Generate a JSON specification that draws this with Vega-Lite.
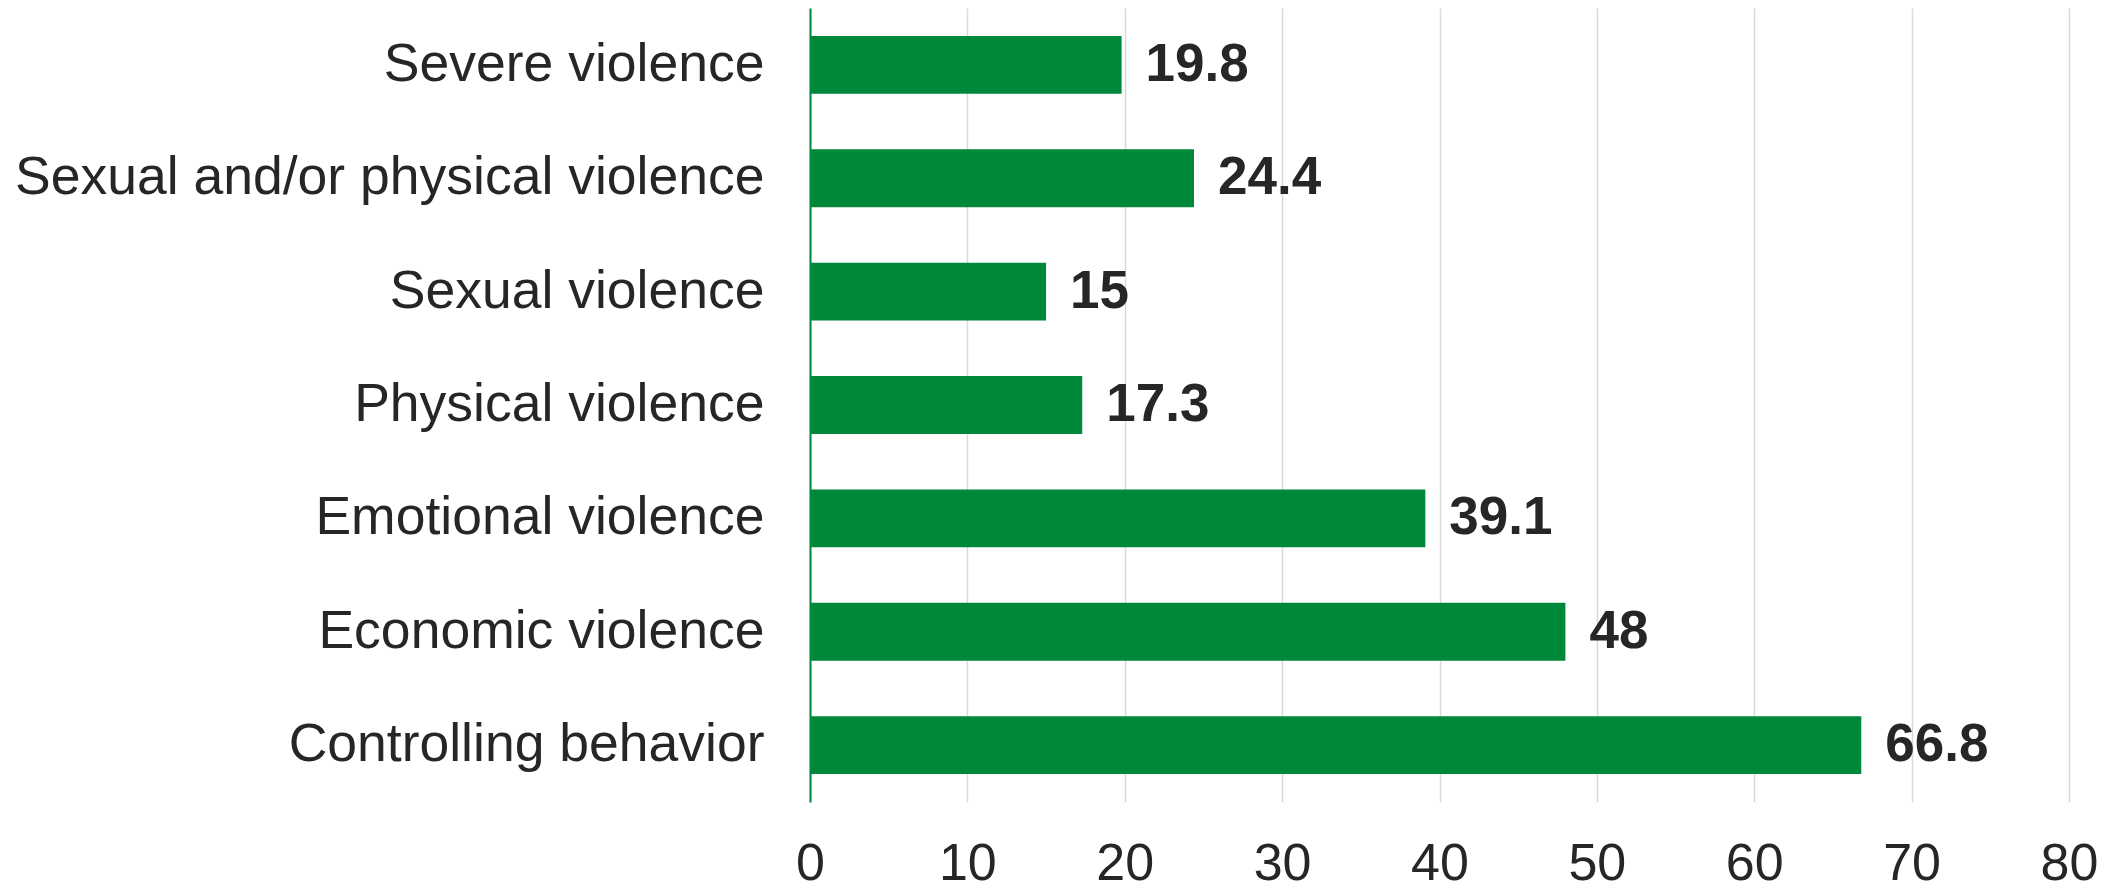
{
  "$schema": "https://vega.github.io/schema/vega-lite/v6.json",
  "autosize": {"type": "none"},
  "padding": {"left": 810, "top": 8, "right": 47, "bottom": 88},
  "width": 1259,
  "height": 794,
  "background": "white",
  "data": {
    "values": [
      {"category": "Severe violence", "value": 19.8},
      {"category": "Sexual and/or physical violence", "value": 24.4},
      {"category": "Sexual violence", "value": 15},
      {"category": "Physical violence", "value": 17.3},
      {"category": "Emotional violence", "value": 39.1},
      {"category": "Economic violence", "value": 48},
      {"category": "Controlling behavior", "value": 66.8}
    ]
  },
  "config": {
    "view": {"stroke": null},
    "font": "Liberation Sans"
  },
  "encoding": {
    "y": {
      "field": "category",
      "type": "nominal",
      "sort": null,
      "scale": {"paddingInner": 0.49, "paddingOuter": 0.247},
      "axis": {
        "title": null,
        "ticks": false,
        "domain": true,
        "domainColor": "#00883A",
        "domainWidth": 2,
        "labelFont": "Liberation Sans",
        "labelFontSize": 53.5,
        "labelColor": "#262626",
        "labelPadding": 46,
        "labelLimit": 1000,
        "grid": false
      }
    },
    "x": {
      "field": "value",
      "type": "quantitative",
      "scale": {"domain": [0, 80], "nice": false},
      "axis": {
        "title": null,
        "values": [0, 10, 20, 30, 40, 50, 60, 70, 80],
        "ticks": false,
        "domain": false,
        "grid": true,
        "gridColor": "#d9d9d9",
        "gridWidth": 1.5,
        "labelFont": "Liberation Sans",
        "labelFontSize": 52,
        "labelColor": "#262626",
        "labelPadding": 36,
        "labelFlush": false
      }
    }
  },
  "layer": [
    {
      "mark": {"type": "bar", "color": "#00883A"}
    },
    {
      "mark": {
        "type": "text",
        "align": "left",
        "baseline": "middle",
        "dx": 24,
        "fontSize": 53,
        "fontWeight": "bold",
        "font": "Liberation Sans",
        "color": "#262626"
      },
      "encoding": {"text": {"field": "value", "type": "quantitative"}}
    }
  ]
}
